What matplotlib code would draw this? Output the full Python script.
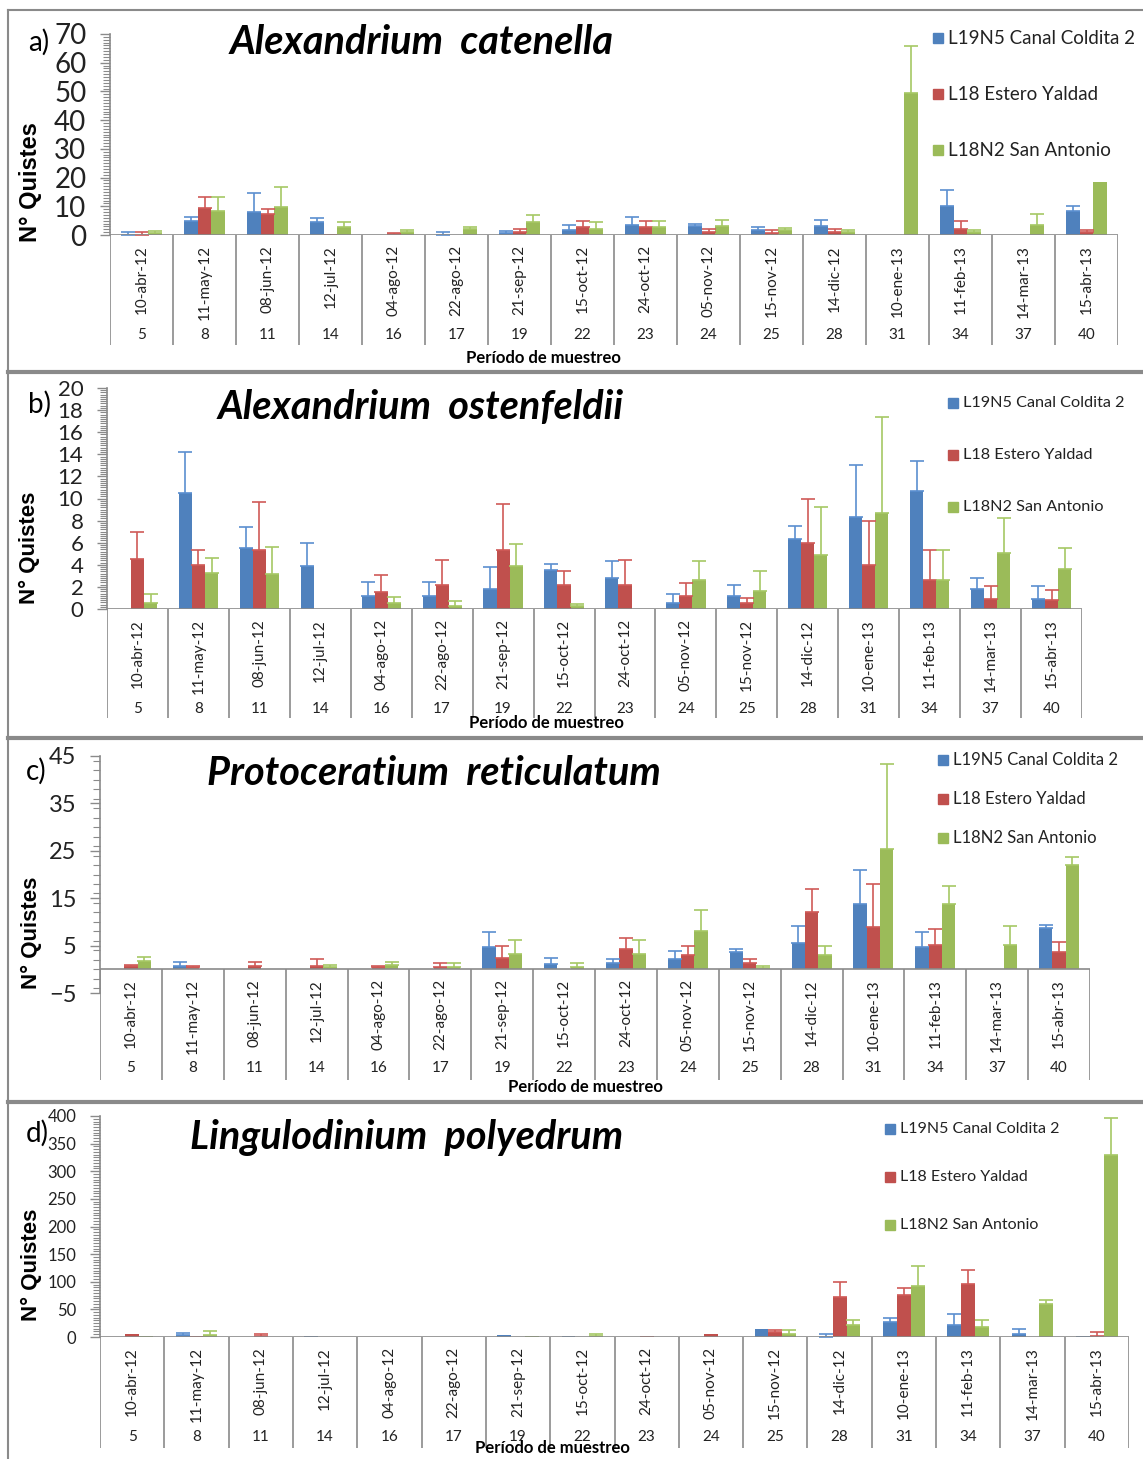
import numpy as np
import matplotlib
matplotlib.use("Agg")
import matplotlib.pyplot as plt
from matplotlib.patches import Rectangle
from matplotlib.lines import Line2D
from matplotlib.ticker import MultipleLocator, FixedLocator

nan = np.nan

# ---------------- data ----------------
dates = ["10-abr-12", "11-may-12", "08-jun-12", "12-jul-12", "04-ago-12", "22-ago-12",
         "21-sep-12", "15-oct-12", "24-oct-12", "05-nov-12", "15-nov-12", "14-dic-12",
         "10-ene-13", "11-feb-13", "14-mar-13", "15-abr-13"]
periods = ["5", "8", "11", "14", "16", "17", "19", "22", "23", "24", "25", "28",
           "31", "34", "37", "40"]
series_names = ["L19N5 Canal Coldita 2", "L18 Estero Yaldad", "L18N2 San Antonio"]
titles = ["Alexandrium  catenella", "Alexandrium  ostenfeldii",
          "Protoceratium  reticulatum", "Lingulodinium  polyedrum"]
letters = ["a)", "b)", "c)", "d)"]

# Panel a: Alexandrium catenella
a_blue = [0.1, 5.0, 8.0, 4.5, 0, 0.1, 0.6, 1.7, 3.5, 3.1, 1.9, 3.1, 0, 10.1, 0, 8.2]
a_blue_err = [0.8, 1.3, 6.5, 1.3, nan, 0.8, 0.9, 1.8, 2.7, 0.8, 1.0, 2.1, nan, 5.5, nan, 1.8]
a_red = [0.1, 9.3, 7.2, 0.5, 0.4, 0, 0.9, 2.7, 2.7, 1.2, 0.8, 0.9, 0, 2.2, 0, 0.9]
a_red_err = [0.8, 3.8, 2.0, nan, 0.2, nan, 1.3, 2.2, 2.2, 0.9, 0.9, 1.2, nan, 2.7, nan, 0.8]
a_green = [0.7, 8.5, 9.7, 2.8, 1.0, 2.0, 4.5, 2.2, 2.7, 3.1, 1.7, 0.9, 49.4, 0.9, 3.5, 18.6]
a_green_err = [0.8, 4.6, 6.9, 1.7, 0.9, 0.7, 2.6, 2.2, 2.2, 2.1, 0.7, 0.8, 16.5, 0.8, 3.9, nan]

# Panel b: Alexandrium ostenfeldii
b_blue = [0, 10.5, 5.5, 3.9, 1.2, 1.2, 1.85, 3.5, 2.85, 0.57, 1.2, 6.3, 8.35, 10.7, 1.8, 0.95]
b_blue_err = [nan, 3.7, 1.95, 2.1, 1.2, 1.2, 1.95, 0.6, 1.45, 0.78, 0.95, 1.2, 4.7, 2.7, 1.05, 1.1]
b_red = [4.55, 4.0, 5.35, 0, 1.5, 2.2, 5.3, 2.2, 2.2, 1.2, 0.5, 6.0, 3.95, 2.6, 0.95, 0.8]
b_red_err = [2.45, 1.3, 4.35, nan, 1.55, 2.2, 4.2, 1.2, 2.2, 1.15, 0.5, 4.0, 4.05, 2.7, 1.1, 0.9]
b_green = [0.57, 3.3, 3.2, 0, 0.5, 0.27, 3.9, 0.24, 0, 2.6, 1.6, 4.85, 8.7, 2.6, 5.05, 3.6]
b_green_err = [0.83, 1.3, 2.45, nan, 0.55, 0.45, 1.95, 0.21, nan, 1.7, 1.8, 4.35, 8.7, 2.7, 3.15, 1.9]

# Panel c: Protoceratium reticulatum
c_blue = [0, 0.8, 0, 0, 0, 0, 4.8, 1.05, 1.4, 2.1, 3.7, 5.55, 13.7, 4.8, 0, 8.7]
c_blue_err = [nan, 0.75, nan, nan, nan, nan, 3.0, 1.25, 0.7, 1.8, 0.5, 3.65, 7.2, 3.0, nan, 0.7]
c_red = [0.6, 0.55, 0.8, 0.8, 0.5, 0.55, 2.3, 0, 4.2, 2.95, 1.35, 12.05, 8.9, 5.05, 0, 3.7]
c_red_err = [0.25, 0.25, 0.75, 1.3, 0.3, 0.7, 2.6, nan, 2.4, 2.05, 0.75, 4.95, 9.1, 3.5, nan, 2.05]
c_green = [1.7, 0, 0, 0.4, 0.85, 0.5, 3.15, 0.55, 3.15, 8.15, 0.3, 2.95, 25.4, 13.7, 5.05, 22.0]
c_green_err = [0.9, nan, nan, 0.6, 0.7, 0.75, 3.1, 0.7, 3.1, 4.4, 0.5, 2.05, 18.0, 3.8, 4.05, 1.7]

# Panel d: Lingulodinium polyedrum
d_blue = [0, 3.6, 0, 1.8, 0, 0, 4.2, 1.8, 0, 0, 13.8, 0.6, 27.7, 21.1, 5.4, 2.4]
d_blue_err = [nan, 4.2, nan, nan, nan, nan, nan, nan, nan, nan, nan, 4.2, 6.0, 19.8, 8.4, nan]
d_red = [5.4, 2.4, 1.2, 0, 0, 0, 0, 0, 2.4, 4.8, 9.0, 72.2, 76.4, 95.1, 0, 2.4]
d_red_err = [nan, nan, 4.2, nan, nan, nan, nan, nan, nan, nan, 3.6, 27.1, 11.4, 25.8, nan, 7.2]
d_green = [2.4, 3.6, 0, 0, 0, 0, 1.8, 1.0, 0, 0, 5.4, 21.1, 92.7, 18.7, 59.0, 329.7]
d_green_err = [nan, 6.6, nan, nan, nan, nan, nan, 4.4, nan, nan, 6.6, 10.2, 35.5, 12.6, 7.8, 67.4]

panel_values = [
    [(a_blue, a_blue_err), (a_red, a_red_err), (a_green, a_green_err)],
    [(b_blue, b_blue_err), (b_red, b_red_err), (b_green, b_green_err)],
    [(c_blue, c_blue_err), (c_red, c_red_err), (c_green, c_green_err)],
    [(d_blue, d_blue_err), (d_red, d_red_err), (d_green, d_green_err)],
]

colors = ["#4F81BD", "#C0504D", "#9BBB59"]
err_colors = ["#5B8FD0", "#D05A57", "#A6C865"]

# ---------------- layout (pixels) ----------------
W, H = 1143, 1459
layout = [
    dict(left=110, right=1118, top=34, bottom=235, ymin=0, ymax=70, zero=235,
         cat_bottom=345, num_y=335, date_gap=10, xlab=(543, 358), title=(230, 42, 28.5),
         letter=(28, 42), ylab=(31, 182), leg=(933, [38, 94, 150], 13.5),
         tickfs=20, major=10, minor=1, ylabfs=17),
    dict(left=107, right=1082, top=388, bottom=609, ymin=0, ymax=20, zero=609,
         cat_bottom=718, num_y=709, date_gap=10, xlab=(546, 723), title=(218, 407, 28.5),
         letter=(28, 404), ylab=(29, 548), leg=(948, [403, 455, 507], 11.7),
         tickfs=16, major=2, minor=0.2, ylabfs=16),
    dict(left=100, right=1090, top=756, bottom=993, ymin=-5, ymax=45, zero=969,
         cat_bottom=1080, num_y=1068, date_gap=10, xlab=(585, 1087), title=(207, 773, 28.5),
         letter=(26, 771), ylab=(31, 933), leg=(938, [760, 799, 838], 12),
         tickfs=17, major=None, minor=2, ylabfs=16),
    dict(left=100, right=1129, top=1116, bottom=1337, ymin=0, ymax=400, zero=1337,
         cat_bottom=1448, num_y=1437, date_gap=10, xlab=(552, 1448), title=(190, 1137, 28.5),
         letter=(26, 1133), ylab=(31, 1265), leg=(885, [1129, 1177, 1225], 11.5),
         tickfs=12, major=50, minor=5, ylabfs=16),
]

FONT = "Lato"
GRAY = "#8A8A8A"

fig = plt.figure(figsize=(W / 100, H / 100), dpi=100)
fig.patch.set_facecolor("white")


def rect(l, t, r, b):
    return [l / W, 1 - b / H, (r - l) / W, (b - t) / H]


def fx(x):
    return x / W


def fy(y):
    return 1 - y / H


n = len(dates)
x = np.arange(n) + 0.5
bw = 0.215
offsets = [-bw, 0, bw]

for p, (cfg, vals) in enumerate(zip(layout, panel_values)):
    ax = fig.add_axes(rect(cfg["left"], cfg["top"], cfg["right"], cfg["bottom"]))
    ax.set_xlim(0, n)
    ax.set_ylim(cfg["ymin"], cfg["ymax"])
    for k, (v, e) in enumerate(vals):
        v = np.asarray(v, float)
        e = np.asarray(e, float)
        ax.bar(x + offsets[k], v, width=bw, color=colors[k], zorder=2, linewidth=0)
        m = ~np.isnan(e)
        ax.errorbar(x[m] + offsets[k], v[m], yerr=[np.zeros(m.sum()), e[m]], fmt="none",
                    ecolor=err_colors[k], elinewidth=1.2, capsize=5, capthick=1.2, zorder=3)
    ax.axhline(0, color=GRAY, lw=1.2, zorder=4)
    for s in ["top", "right", "bottom"]:
        ax.spines[s].set_visible(False)
    ax.spines["left"].set_color(GRAY)
    ax.spines["left"].set_linewidth(1.2)
    ax.set_xticks([])
    if cfg["major"] is None:
        ax.yaxis.set_major_locator(FixedLocator([-5, 5, 15, 25, 35, 45]))
    else:
        ax.yaxis.set_major_locator(MultipleLocator(cfg["major"]))
    ax.yaxis.set_minor_locator(MultipleLocator(cfg["minor"]))
    ax.tick_params(axis="y", which="major", direction="out", length=7, width=1.0,
                   color=GRAY, labelsize=cfg["tickfs"], pad=10, labelcolor="#222222")
    ax.tick_params(axis="y", which="minor", direction="out", length=5, width=0.8, color=GRAY)
    for lab in ax.get_yticklabels():
        lab.set_fontfamily(FONT)
    ax.patch.set_alpha(0)

    # category axis area (pixels, inverted)
    h = cfg["cat_bottom"] - cfg["zero"]
    axc = fig.add_axes(rect(cfg["left"], cfg["zero"], cfg["right"], cfg["cat_bottom"]))
    axc.set_xlim(0, n)
    axc.set_ylim(h, 0)
    axc.axis("off")
    axc.patch.set_alpha(0)
    axc.vlines(np.arange(n + 1), 0, h, color=GRAY, lw=1.2)
    for i in range(n):
        axc.text(x[i], cfg["date_gap"], dates[i], rotation=90, ha="center", va="top",
                 fontsize=11, fontfamily=FONT, color="#222222")
        axc.text(x[i], cfg["num_y"] - cfg["zero"], periods[i], ha="center", va="center",
                 fontsize=11, fontfamily=FONT, color="#222222")

    # texts
    fig.text(fx(cfg["xlab"][0]), fy(cfg["xlab"][1]), "Período de muestreo", ha="center",
             va="center", fontsize=12, fontweight="bold", fontfamily=FONT)
    tx, ty, tfs = cfg["title"]
    fig.text(fx(tx), fy(ty), titles[p], ha="left", va="center", fontsize=tfs,
             fontweight="bold", style="italic", fontfamily=FONT)
    fig.text(fx(cfg["letter"][0]), fy(cfg["letter"][1]), letters[p], ha="left",
             va="center", fontsize=20, fontfamily=FONT)
    fig.text(fx(cfg["ylab"][0]), fy(cfg["ylab"][1]), "N° Quistes", rotation=90,
             ha="center", va="center", fontsize=cfg["ylabfs"], fontweight="bold",
             fontfamily="Liberation Sans")

    # legend
    lx, lys, lfs = cfg["leg"]
    for k in range(3):
        fig.patches.append(Rectangle((fx(lx), fy(lys[k] + 5)), 10 / W, 10 / H,
                                     transform=fig.transFigure, color=colors[k]))
        fig.text(fx(lx + 15), fy(lys[k]), series_names[k], ha="left", va="center",
                 fontsize=lfs, fontfamily=FONT, color="#222222")

# frame lines
fig.add_artist(Line2D([fx(8), fx(8)], [fy(10), fy(1459)], color=GRAY, lw=1.5,
                      transform=fig.transFigure))
fig.add_artist(Line2D([fx(8), fx(1143)], [fy(10), fy(10)], color=GRAY, lw=1.5,
                      transform=fig.transFigure))
for ysep in [372, 738, 1102]:
    fig.add_artist(Line2D([fx(8), fx(1143)], [fy(ysep), fy(ysep)], color=GRAY, lw=3,
                          transform=fig.transFigure))

fig.savefig("out.png", dpi=100, facecolor="white")
